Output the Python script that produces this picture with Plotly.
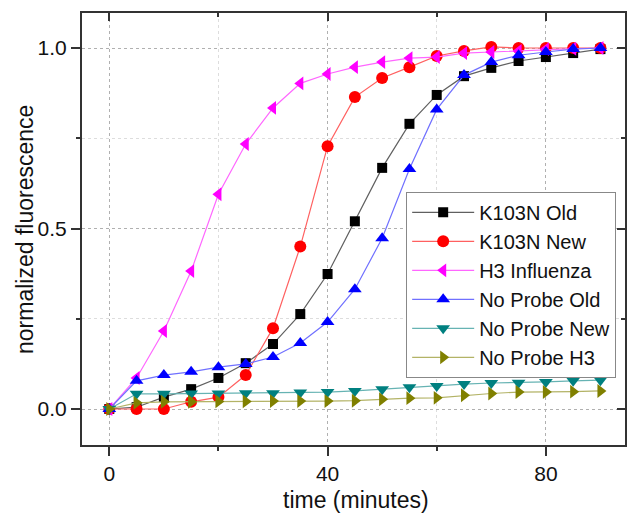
import plotly.graph_objects as go

time_min = [0, 5, 10, 15, 20, 25, 30, 35, 40, 45, 50, 55, 60, 65, 70, 75, 80, 85, 90]

k103n_old = [0.0, 0.005, 0.033, 0.055, 0.086, 0.127, 0.18, 0.263, 0.374, 0.52, 0.668, 0.79, 0.87, 0.922, 0.945, 0.964, 0.975, 0.986, 0.997]
k103n_new = [0.0, 0.0, 0.0, 0.02, 0.033, 0.094, 0.224, 0.45, 0.728, 0.864, 0.917, 0.947, 0.978, 0.992, 1.003, 1.0, 1.0, 1.0, 1.0]
h3_influenza = [0.0, 0.086, 0.216, 0.382, 0.595, 0.734, 0.834, 0.902, 0.928, 0.947, 0.961, 0.972, 0.975, 0.986, 0.989, 0.992, 0.997, 0.998, 1.0]
no_probe_old = [0.0, 0.078, 0.094, 0.103, 0.116, 0.125, 0.144, 0.183, 0.241, 0.332, 0.473, 0.665, 0.83, 0.925, 0.961, 0.98, 0.989, 0.997, 1.0]
no_probe_new = [0.0, 0.042, 0.042, 0.043, 0.043, 0.044, 0.044, 0.046, 0.047, 0.05, 0.055, 0.06, 0.064, 0.069, 0.072, 0.073, 0.075, 0.078, 0.08]
no_probe_h3 = [0.0, 0.017, 0.02, 0.02, 0.021, 0.021, 0.022, 0.022, 0.022, 0.023, 0.027, 0.03, 0.031, 0.038, 0.043, 0.047, 0.047, 0.048, 0.05]

series_names = ["K103N Old", "K103N New", "H3 Influenza", "No Probe Old", "No Probe New", "No Probe H3"]
series_values = [k103n_old, k103n_new, h3_influenza, no_probe_old, no_probe_new, no_probe_h3]
marker_colors = ["#000000", "#ff0000", "#ff00ff", "#0000ff", "#008080", "#808000"]
line_colors = ["#606060", "#ff6060", "#ff66ff", "#7070ff", "#66b3b3", "#b3b366"]
symbols = ["square", "circle", "triangle-left", "triangle-up", "triangle-down", "triangle-right"]
sizes = [10, 12, 12, 12, 12, 12]

x_range = [-5.0, 94.5]
y_range = [-0.0997, 1.097]

fig = go.Figure()
for name, vals, mc, lc, sym, sz in zip(series_names, series_values, marker_colors, line_colors, symbols, sizes):
    fig.add_trace(go.Scatter(
        x=time_min, y=vals, name=name, mode="lines+markers",
        line=dict(color=lc, width=1.2),
        marker=dict(color=mc, symbol=sym, size=sz, line=dict(width=0)),
    ))

# dummy trace for the mirrored (inside-tick) top/right axes
fig.add_trace(go.Scatter(x=[], y=[], xaxis="x2", yaxis="y2", showlegend=False, hoverinfo="skip"))

font = "Liberation Sans, Arial, sans-serif"
axis_col = "#333333"
grid_col = "#b0b0b0"
minor_grid_col = "#dddddd"

fig.update_layout(
    width=627, height=513,
    margin=dict(l=82, r=2, t=13, b=68),
    paper_bgcolor="white", plot_bgcolor="white",
    font=dict(family=font, size=21, color="#111111"),
    showlegend=True,
    legend=dict(
        x=0.597, y=0.586, xanchor="left", yanchor="top",
        bordercolor="#888888", borderwidth=1, bgcolor="white",
        font=dict(size=20, family=font, color="#111111"),
        tracegroupgap=0, itemwidth=62,
    ),
    xaxis=dict(
        range=x_range, tickvals=[0, 40, 80], ticks="outside", ticklen=9, tickwidth=1.5,
        tickcolor=axis_col, showline=True, linecolor=axis_col, linewidth=2,
        showgrid=True, gridcolor=grid_col, griddash="dot", gridwidth=1,
        zeroline=False, tickfont=dict(size=21), automargin=False,
        minor=dict(tickvals=[20, 60], ticks="outside", ticklen=4, tickcolor=axis_col,
                   showgrid=True, gridcolor=minor_grid_col, griddash="dot"),
    ),
    yaxis=dict(
        range=y_range, tickvals=[0, 0.5, 1.0], ticktext=["0.0", "0.5", "1.0"],
        ticks="outside", ticklen=9, tickwidth=1.5, tickcolor=axis_col,
        showline=True, linecolor=axis_col, linewidth=2,
        showgrid=True, gridcolor=grid_col, griddash="dot", gridwidth=1,
        zeroline=False, tickfont=dict(size=21), automargin=False,
        minor=dict(tickvals=[0.25, 0.75], ticks="outside", ticklen=4, tickcolor=axis_col,
                   showgrid=True, gridcolor=minor_grid_col, griddash="dot"),
    ),
    xaxis2=dict(
        range=x_range, overlaying="x", side="top", anchor="y", tickvals=[0, 40, 80],
        ticks="inside", ticklen=8, tickwidth=1.5, tickcolor=axis_col,
        showticklabels=False, showline=True, linecolor=axis_col, linewidth=2,
        showgrid=False, zeroline=False, automargin=False,
        minor=dict(tickvals=[20, 60], ticks="inside", ticklen=4, tickcolor=axis_col),
    ),
    yaxis2=dict(
        range=y_range, overlaying="y", side="right", anchor="x", tickvals=[0, 0.5, 1.0],
        ticks="inside", ticklen=8, tickwidth=1.5, tickcolor=axis_col,
        showticklabels=False, showline=True, linecolor=axis_col, linewidth=2,
        showgrid=False, zeroline=False, automargin=False,
        minor=dict(tickvals=[0.25, 0.75], ticks="inside", ticklen=4, tickcolor=axis_col),
    ),
    annotations=[
        dict(text="time (minutes)", xref="paper", yref="paper", x=0.505, y=-0.127,
             xanchor="center", yanchor="middle", showarrow=False,
             font=dict(size=23, family=font, color="#111111")),
        dict(text="normalized fluorescence", xref="paper", yref="paper", x=-0.105, y=0.5,
             xanchor="center", yanchor="middle", textangle=-90, showarrow=False,
             font=dict(size=23, family=font, color="#111111")),
    ],
)

fig.write_html("out.html", config={"displayModeBar": False},
               post_script="document.body.style.margin='0';document.body.style.overflow='hidden';")
